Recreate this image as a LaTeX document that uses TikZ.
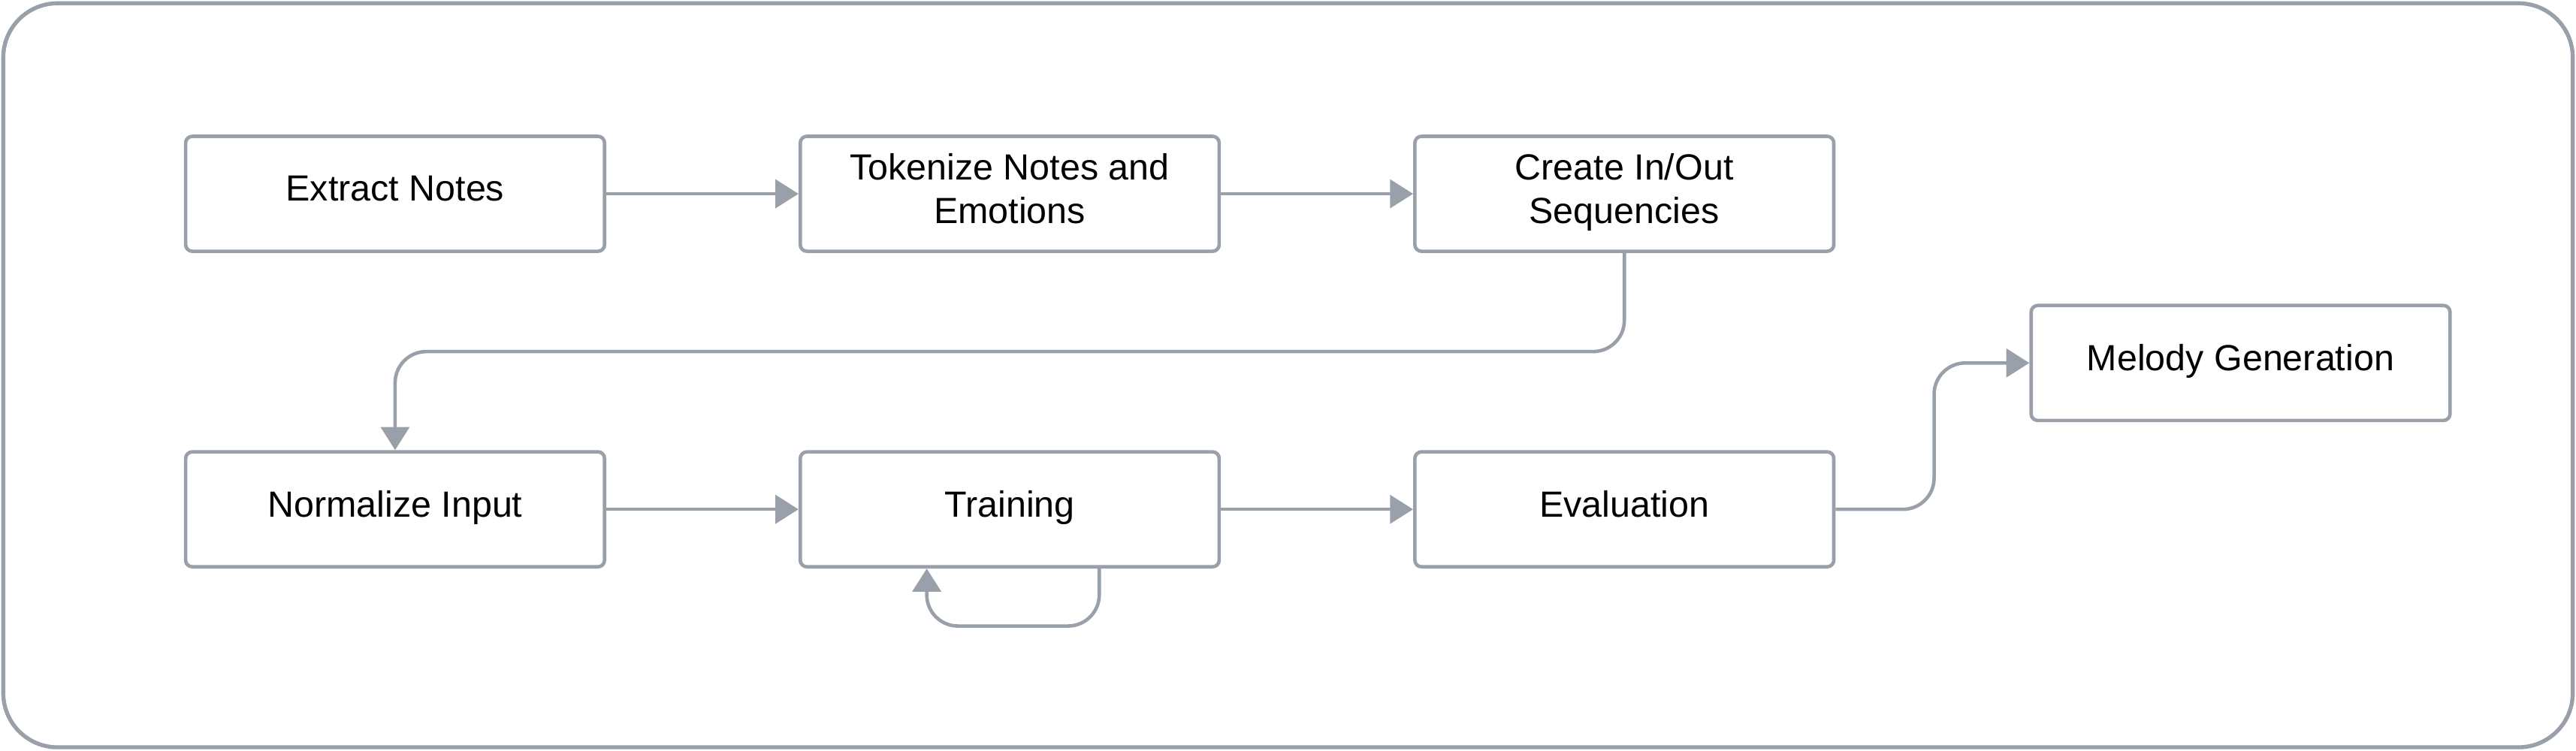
\documentclass[tikz,border=0pt]{standalone}
\usepackage{fontspec}
\setmainfont{Liberation Sans}
\usepackage{tikz}
\usepackage{xcolor}
\usetikzlibrary{positioning,arrows.meta}
\definecolor{linegray}{RGB}{154,160,170}

\begin{document}
\begin{tikzpicture}[
    block/.style={draw=linegray, line width=1.2pt, rounded corners=2.3pt, rectangle, minimum width=5.1cm, minimum height=1.4cm, align=center, text depth=0.13cm, font=\fontsize{12.6}{15}\selectfont},
    arrow/.style={-{Triangle[length=8pt, width=9.8pt]}, draw=linegray, line width=1.2pt}
]
\useasboundingbox (-4.81,2.36) rectangle (26.55,-6.78);
\draw[linegray, line width=1.4pt, rounded corners=0.66cm] (-4.77,2.32) rectangle (26.51,-6.74);

\node[block] (extract) {Extract Notes};
\node[block, right=2.34cm of extract] (token) {Tokenize Notes and\\Emotions};
\node[block, right=2.34cm of token] (seq) {Create In/Out\\Sequencies};
\node[block, below=2.40cm of extract] (norm) {Normalize Input};
\node[block, right=2.34cm of norm] (train) {Training};
\node[block, right=2.34cm of train] (eval) {Evaluation};
\node[block, above right=0.34cm and 2.36cm of eval] (melody) {Melody Generation};

\draw[arrow] (extract) -- (token);
\draw[arrow] (token) -- (seq);
\draw[arrow, rounded corners=0.38cm] (seq.south) -- ++(0,-1.2) -| (norm.north);
\draw[arrow] (norm) -- (train);
\draw[arrow] (train) -- (eval);
\draw[arrow, rounded corners=0.38cm] ([xshift=1.09cm]train.south) -- ++(0,-0.7) -| ([xshift=-1.01cm]train.south);
\draw[arrow, rounded corners=0.38cm] (eval.east) -- ++(1.2,0) |- (melody.west);
\end{tikzpicture}
\end{document}
